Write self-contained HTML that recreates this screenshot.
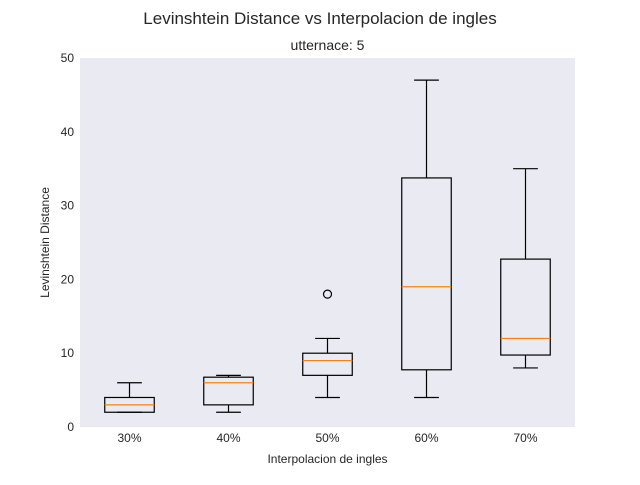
<!DOCTYPE html>
<html><head><meta charset="utf-8"><style>
body{margin:0;background:#fff;font-family:"Liberation Sans",sans-serif;}
</style></head><body>
<svg id="chart" width="640" height="480" xmlns="http://www.w3.org/2000/svg">
<text x="320" y="24" text-anchor="middle" font-size="17" fill="#262626">Levinshtein Distance vs Interpolacion de ingles</text>
<text x="327.5" y="50" text-anchor="middle" font-size="14" fill="#262626">utternace: 5</text>
<rect x="80" y="58" width="495" height="369" fill="#EAEAF2"/>
<g id="yticks"></g><g id="xticks"></g><g id="boxes"></g>
<text x="327.5" y="463" text-anchor="middle" font-size="12" fill="#262626">Interpolacion de ingles</text>
<text transform="translate(49,242.5) rotate(-90)" text-anchor="middle" font-size="12" fill="#262626">Levinshtein Distance</text>
</svg>
<script>
const categories=["30%","40%","50%","60%","70%"];
const whiskerLow=[2,2,4,4,8];
const q1=[2,3,7,7.75,9.75];
const medians=[3,6,9,19,12];
const q3=[4,6.75,10,33.75,22.75];
const whiskerHigh=[6,7,12,47,35];
const outliers=[[],[],[18],[],[]];
const yTicks=[0,10,20,30,40,50];
const NS="http://www.w3.org/2000/svg";
const X0=80,X1=575,Y0=427,Y1=58;
const xs=i=>X0+(i+0.5)*(X1-X0)/categories.length;
const ys=v=>Y0-(v/50)*(Y0-Y1);
const bw=(X1-X0)/categories.length;
function mk(tag,attrs,parent){const e=document.createElementNS(NS,tag);for(const k in attrs)e.setAttribute(k,attrs[k]);parent.appendChild(e);return e;}
const yg=document.getElementById('yticks');
yTicks.forEach(t=>{const e=mk('text',{x:74,y:ys(t)+4,'text-anchor':'end','font-size':12,fill:'#262626'},yg);e.textContent=t;

});
const xg=document.getElementById('xticks');
categories.forEach((c,i)=>{const e=mk('text',{x:xs(i),y:442,'text-anchor':'middle','font-size':12,fill:'#262626'},xg);e.textContent=c;

});
const bg=document.getElementById('boxes');
categories.forEach((c,i)=>{
const g=mk('g',{stroke:'#000','stroke-width':1.2,fill:'none'},bg);


const x=xs(i),h=bw*0.25,cw=bw*0.125;
mk('rect',{x:x-h,y:ys(q3[i]),width:2*h,height:ys(q1[i])-ys(q3[i])},g);
mk('line',{x1:x,x2:x,y1:ys(q1[i]),y2:ys(whiskerLow[i])},g);
mk('line',{x1:x,x2:x,y1:ys(q3[i]),y2:ys(whiskerHigh[i])},g);
mk('line',{x1:x-cw,x2:x+cw,y1:ys(whiskerLow[i]),y2:ys(whiskerLow[i])},g);
mk('line',{x1:x-cw,x2:x+cw,y1:ys(whiskerHigh[i]),y2:ys(whiskerHigh[i])},g);
mk('line',{x1:x-h,x2:x+h,y1:ys(medians[i]),y2:ys(medians[i]),stroke:'#FF7F0E'},g);
outliers[i].forEach(o=>{mk('circle',{cx:x,cy:ys(o),r:4},g);});
});
</script>
</body></html>
